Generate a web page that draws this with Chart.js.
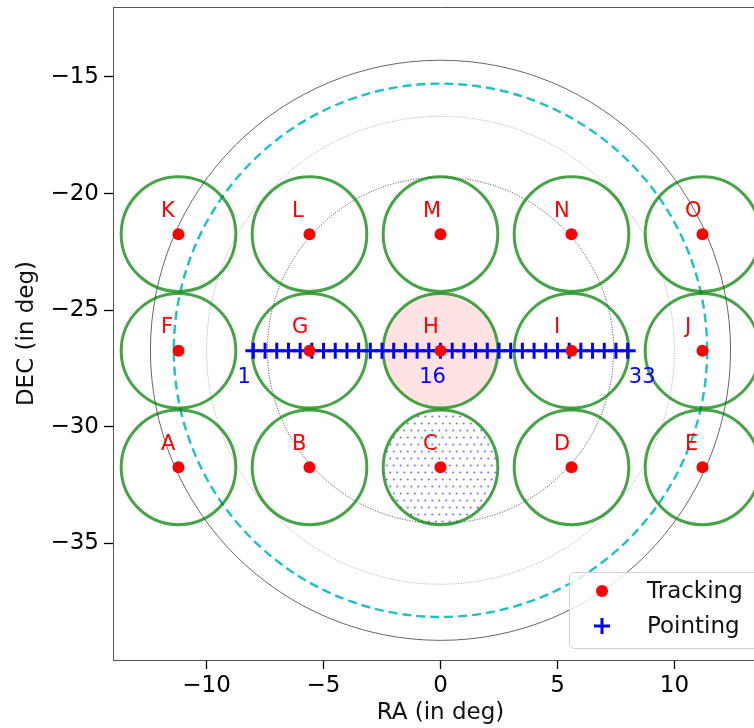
<!DOCTYPE html>
<html>
<head>
<meta charset="utf-8">
<script src="https://cdn.jsdelivr.net/npm/chart.js@4/dist/chart.umd.min.js"></script>
<style>
  html, body { margin: 0; padding: 0; overflow: hidden; background: #fff; width: 754px; height: 728px; }
  #wrap { position: absolute; left: 0; top: 0; width: 780px; height: 728px; }
</style>
</head>
<body>
<div id="wrap"><canvas id="sky" width="780" height="728"></canvas></div>
<script>
// Tracking field centres (RA, DEC in degrees), rows A-E, F-J, K-O
const fieldNames = ['A','B','C','D','E','F','G','H','I','J','K','L','M','N','O'];
const trackRA  = [-11.2, -5.6, 0, 5.6, 11.2,
                  -11.2, -5.6, 0, 5.6, 11.2,
                  -11.2, -5.6, 0, 5.6, 11.2];
const trackDEC = [-31.74, -31.74, -31.74, -31.74, -31.74,
                  -26.74, -26.74, -26.74, -26.74, -26.74,
                  -21.74, -21.74, -21.74, -21.74, -21.74];
const fieldRadius = 2.45;            // field of view radius (deg)
const filledField = 'H';             // solid pink field
const hatchedField = 'C';            // dotted field

// Pointing positions along the central row
const pointRA = [-8, -7.5, -7, -6.5, -6, -5.5, -5, -4.5, -4, -3.5, -3, -2.5, -2, -1.5, -1, -0.5,
                 0, 0.5, 1, 1.5, 2, 2.5, 3, 3.5, 4, 4.5, 5, 5.5, 6, 6.5, 7, 7.5, 8];
const pointDEC = -26.74;
const pointLabels = ['1', '16', '33'];
const pointLabelRA = [-8.39, -0.34, 8.62];
const pointLabelDEC = -27.87;

// Concentric reference rings about the array centre
const ringCenter = [0, -26.72];
const ringRadii = [7.4, 10.0, 11.4, 12.4];

// Axis ranges and ticks
const raRange = [-14, 14];
const decRange = [-40, -12];
const raTicks = [-10, -5, 0, 5, 10];
const decTicks = [-35, -30, -25, -20, -15];

const FONT = "'DejaVu Sans', sans-serif";
const ringStyles = [
  { color: 'rgba(0,0,0,0.65)', width: 1, dash: [1.2, 1.4] },
  { color: 'rgba(0,0,0,0.3)',  width: 1, dash: [1.2, 1.4] },
  { color: '#1cc0c6',          width: 2.4, dash: [9, 5] },
  { color: 'rgba(0,0,0,0.6)',  width: 1, dash: [] }
];

function dotPattern(ctx) {
  const t = document.createElement('canvas');
  t.width = 7; t.height = 14;
  const g = t.getContext('2d');
  g.fillStyle = 'rgba(80,80,255,0.8)';
  [[1.75, 3.5], [5.25, 10.5]].forEach(([a, b]) => {
    g.beginPath(); g.arc(a, b, 1.05, 0, Math.PI * 2); g.fill();
  });
  return ctx.createPattern(t, 'repeat');
}

const fieldsPlugin = {
  id: 'fields',
  beforeDatasetsDraw(chart) {
    const { ctx, chartArea: a, scales: { x, y } } = chart;
    const px = v => x.getPixelForValue(v), py = v => y.getPixelForValue(v);
    const unit = Math.abs(px(1) - px(0));
    ctx.save();
    ctx.beginPath(); ctx.rect(a.left, a.top, a.width, a.height); ctx.clip();

    ringRadii.forEach((r, i) => {
      const s = ringStyles[i];
      ctx.beginPath();
      ctx.arc(px(ringCenter[0]), py(ringCenter[1]), r * unit, 0, Math.PI * 2);
      ctx.setLineDash(s.dash); ctx.lineWidth = s.width; ctx.strokeStyle = s.color;
      ctx.stroke();
    });
    ctx.setLineDash([]);

    const pat = dotPattern(ctx);
    fieldNames.forEach((n, i) => {
      const cx = px(trackRA[i]), cy = py(trackDEC[i]), r = fieldRadius * unit;
      if (n === filledField) {
        ctx.beginPath(); ctx.arc(cx, cy, r, 0, Math.PI * 2);
        ctx.fillStyle = 'rgba(255,0,0,0.11)'; ctx.fill();
      }
      if (n === hatchedField) {
        ctx.beginPath(); ctx.arc(cx, cy, r, 0, Math.PI * 2);
        ctx.fillStyle = pat; ctx.fill();
      }
    });
    fieldNames.forEach((n, i) => {
      ctx.beginPath();
      ctx.arc(px(trackRA[i]), py(trackDEC[i]), fieldRadius * unit, 0, Math.PI * 2);
      ctx.lineWidth = 3; ctx.strokeStyle = 'rgba(0,128,0,0.72)';
      ctx.stroke();
    });
    ctx.restore();
  },
  afterDatasetsDraw(chart) {
    const { ctx, scales: { x, y } } = chart;
    ctx.save();
    ctx.fillStyle = 'red';
    ctx.font = `21px ${FONT}`;
    ctx.textAlign = 'left'; ctx.textBaseline = 'alphabetic';
    fieldNames.forEach((n, i) => {
      ctx.fillText(n, x.getPixelForValue(trackRA[i] - 0.75), y.getPixelForValue(trackDEC[i] + 0.75));
    });
    ctx.fillStyle = 'blue';
    ctx.textAlign = 'center'; ctx.textBaseline = 'middle';
    pointLabels.forEach((t, i) => {
      ctx.fillText(t, x.getPixelForValue(pointLabelRA[i]), y.getPixelForValue(pointLabelDEC));
    });
    ctx.restore();
  },
  afterDraw(chart) {
    const { ctx, chartArea: a } = chart;
    ctx.save();
    // top frame line
    ctx.strokeStyle = '#555'; ctx.lineWidth = 1;
    ctx.beginPath(); ctx.moveTo(a.left, a.top + 0.5); ctx.lineTo(a.right, a.top + 0.5); ctx.stroke();

    // legend box, lower right
    const right = a.right - 7, bottom = a.bottom - 12;
    const w = 192, h = 76, left = right - w, top = bottom - h;
    ctx.beginPath(); ctx.roundRect(left + 0.5, top + 0.5, w, h, 5);
    ctx.fillStyle = 'rgba(255,255,255,0.8)'; ctx.fill();
    ctx.strokeStyle = '#d0d0d0'; ctx.lineWidth = 1; ctx.stroke();
    const mx = left + 33, tx = left + 78;
    const rows = [top + 19, top + 54];
    chart.data.datasets.forEach((ds, i) => {
      const yy = rows[i];
      if (ds.pointStyle === 'cross') {
        ctx.strokeStyle = ds.borderColor; ctx.lineWidth = ds.pointBorderWidth;
        ctx.beginPath();
        ctx.moveTo(mx - ds.pointRadius, yy); ctx.lineTo(mx + ds.pointRadius, yy);
        ctx.moveTo(mx, yy - ds.pointRadius); ctx.lineTo(mx, yy + ds.pointRadius);
        ctx.stroke();
      } else {
        ctx.fillStyle = ds.backgroundColor;
        ctx.beginPath(); ctx.arc(mx, yy, ds.pointRadius, 0, Math.PI * 2); ctx.fill();
      }
      ctx.fillStyle = '#111'; ctx.font = `23px ${FONT}`;
      ctx.textAlign = 'left'; ctx.textBaseline = 'middle';
      ctx.fillText(ds.label, tx, yy + 1);
    });
    ctx.restore();
  }
};

const minus = v => String(v).replace('-', '\u2212');

new Chart(document.getElementById('sky'), {
  type: 'scatter',
  data: {
    datasets: [
      {
        label: 'Tracking',
        data: trackRA.map((ra, i) => ({ x: ra, y: trackDEC[i] })),
        pointStyle: 'circle', pointRadius: 6, pointBorderWidth: 0,
        backgroundColor: 'red', borderColor: 'red', order: 0
      },
      {
        label: 'Pointing',
        data: pointRA.map(ra => ({ x: ra, y: pointDEC })),
        pointStyle: 'cross', pointRadius: 8, pointBorderWidth: 3,
        backgroundColor: 'blue', borderColor: 'blue', order: 1
      }
    ]
  },
  options: {
    responsive: false,
    animation: false,
    devicePixelRatio: 1,
    events: [],
    layout: { autoPadding: false, padding: { top: 7, right: 12, left: 0, bottom: 0 } },
    plugins: { legend: { display: false }, tooltip: { enabled: false } },
    scales: {
      x: {
        type: 'linear', min: raRange[0], max: raRange[1],
        afterFit: s => { s.height = 68; s.paddingLeft = 0; s.paddingRight = 0; },
        afterBuildTicks: s => { s.ticks = raTicks.map(v => ({ value: v })); },
        grid: { drawOnChartArea: false, drawTicks: true, tickLength: 9, tickColor: '#000', tickWidth: 1.3 },
        border: { display: true, color: '#555', width: 1 },
        ticks: { color: '#000', font: { family: FONT, size: 23 }, padding: 3, maxRotation: 0, callback: minus },
        title: { display: true, text: 'RA (in deg)', color: '#111', font: { family: FONT, size: 23 }, padding: { top: 0, bottom: 1 } }
      },
      y: {
        type: 'linear', min: decRange[0], max: decRange[1],
        afterFit: s => { s.width = 113; s.paddingTop = 0; s.paddingBottom = 0; },
        afterBuildTicks: s => { s.ticks = decTicks.map(v => ({ value: v })); },
        grid: { drawOnChartArea: false, drawTicks: true, tickLength: 9, tickColor: '#000', tickWidth: 1.3 },
        border: { display: true, color: '#555', width: 1 },
        ticks: { color: '#000', font: { family: FONT, size: 23 }, padding: 5, callback: minus },
        title: { display: true, text: 'DEC (in deg)', color: '#111', font: { family: FONT, size: 23 }, padding: { top: 13, bottom: 0 } }
      }
    }
  },
  plugins: [fieldsPlugin]
});
</script>
</body>
</html>
